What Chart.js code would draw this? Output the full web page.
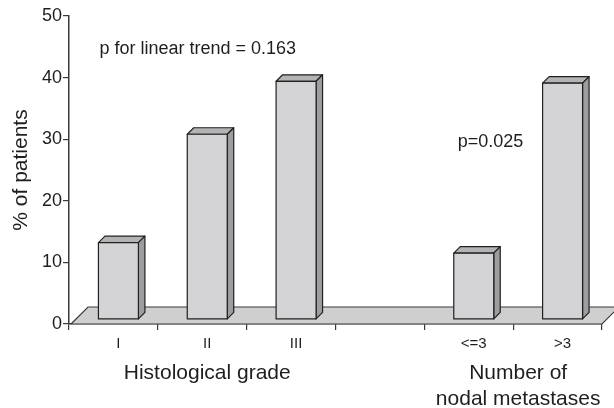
<!DOCTYPE html>
<html>
<head>
<meta charset="utf-8">
<script src="https://cdn.jsdelivr.net/npm/chart.js@4/dist/chart.umd.min.js"></script>
<style>
  html, body { margin: 0; padding: 0; background: #fff; }
  #wrap { width: 614px; height: 408px; position: relative; }
</style>
</head>
<body>
<div id="wrap"><canvas id="c" width="614" height="408"></canvas></div>
<script>
// ---- data ----
const categories = ['I', 'II', 'III', '', '<=3', '>3'];
const percentPatients = [13.2, 30.8, 39.4, null, 11.5, 39.1];
const yTickValues = [0, 10, 20, 30, 40, 50];
const yAxisTitle = '% of patients';
const groupHistological = ['Histological grade'];
const groupNodal = ['Number of', 'nodal metastases'];
const trendNote = 'p for linear trend = 0.163';
const nodalNote = 'p=0.025';

// ---- style ----
const FONT = "'Liberation Sans', Arial, Helvetica, sans-serif";
const TEXT = '#1e1e1e';
const LINE = '#3a3a3a';
const DEPTH_SHIFT = 5;   // bars sit a little back on the floor
const BAR_DEPTH = 6.5;
const FLOOR_DEPTH = 17;

const threeD = {
  id: 'threeD',
  beforeDatasetsDraw(chart) {
    const { ctx } = chart;
    const xs = chart.scales.x, ys = chart.scales.y;
    const y0 = ys.getPixelForValue(0);
    ctx.save();
    ctx.beginPath();
    ctx.moveTo(xs.left + 2, y0);
    ctx.lineTo(xs.left + 2 + FLOOR_DEPTH, y0 - FLOOR_DEPTH);
    ctx.lineTo(xs.right + FLOOR_DEPTH, y0 - FLOOR_DEPTH);
    ctx.lineTo(xs.right, y0);
    ctx.closePath();
    ctx.fillStyle = '#cfcfd0';
    ctx.fill();
    ctx.lineWidth = 1.2;
    ctx.strokeStyle = LINE;
    ctx.stroke();
    ctx.restore();
  },
  afterDatasetsDraw(chart) {
    const { ctx } = chart;
    const meta = chart.getDatasetMeta(0);
    const d = BAR_DEPTH;
    ctx.save();
    ctx.lineWidth = 1.2;
    ctx.strokeStyle = '#202020';
    ctx.lineJoin = 'round';
    meta.data.forEach((el, i) => {
      if (percentPatients[i] == null) return;
      const p = el.getProps(['x', 'y', 'base', 'width'], true);
      const L = p.x + DEPTH_SHIFT - p.width / 2;
      const R = p.x + DEPTH_SHIFT + p.width / 2;
      const B = p.base - 4.5;
      const T = p.y;
      // top
      ctx.beginPath();
      ctx.moveTo(L, T); ctx.lineTo(L + d, T - d); ctx.lineTo(R + d, T - d); ctx.lineTo(R, T); ctx.closePath();
      ctx.fillStyle = '#b3b3b5'; ctx.fill(); ctx.stroke();
      // side
      ctx.beginPath();
      ctx.moveTo(R, T); ctx.lineTo(R + d, T - d); ctx.lineTo(R + d, B - d); ctx.lineTo(R, B); ctx.closePath();
      ctx.fillStyle = '#9d9d9f'; ctx.fill(); ctx.stroke();
      // front
      ctx.beginPath();
      ctx.rect(L, T, R - L, B - T);
      ctx.fillStyle = '#d4d4d6'; ctx.fill(); ctx.stroke();
    });
    ctx.restore();
  },
  afterDraw(chart) {
    const { ctx } = chart;
    const xs = chart.scales.x, ys = chart.scales.y;
    const meta = chart.getDatasetMeta(0);
    const halfBar = meta.data[0].width / 2;
    ctx.save();
    ctx.fillStyle = TEXT;
    ctx.textBaseline = 'alphabetic';
    // annotations
    ctx.font = '18px ' + FONT;
    ctx.textAlign = 'left';
    ctx.fillText(trendNote, xs.getPixelForValue(0) + DEPTH_SHIFT - halfBar + 1, ys.getPixelForValue(43.8));
    ctx.fillText(nodalNote, xs.getPixelForValue(4) + DEPTH_SHIFT - halfBar + 4, ys.getPixelForValue(28.7));
    // group labels
    ctx.font = '21px ' + FONT;
    ctx.textAlign = 'center';
    const baseY = ys.getPixelForValue(0) + 55;
    const c1 = xs.getPixelForValue(1) + DEPTH_SHIFT;
    groupHistological.forEach((t, k) => ctx.fillText(t, c1, baseY + k * 26));
    const c2 = (xs.getPixelForValue(4) + xs.getPixelForValue(5)) / 2 + DEPTH_SHIFT;
    groupNodal.forEach((t, k) => ctx.fillText(t, c2, baseY + k * 26));
    ctx.restore();
  }
};

new Chart(document.getElementById('c'), {
  type: 'bar',
  data: {
    labels: categories,
    datasets: [{
      data: percentPatients,
      backgroundColor: 'rgba(0,0,0,0)',
      borderWidth: 0,
      barPercentage: 0.45,
      categoryPercentage: 1.0
    }]
  },
  options: {
    responsive: false,
    animation: false,
    events: [],
    layout: { padding: { top: 16, right: 12, left: 0, bottom: 0 } },
    plugins: { legend: { display: false }, tooltip: { enabled: false } },
    scales: {
      x: {
        offset: true,
        afterFit(s) { s.height = 84; },
        grid: { display: true, drawOnChartArea: false, drawTicks: true, tickLength: 6, color: LINE, lineWidth: 1.2, offset: true },
        border: { display: true, color: LINE, width: 1.2 },
        ticks: { color: TEXT, font: { family: FONT, size: 15 }, labelOffset: DEPTH_SHIFT, padding: 5, maxRotation: 0, autoSkip: false }
      },
      y: {
        min: 0, max: 50,
        afterFit(s) { s.width = 69; },
        afterBuildTicks(s) { s.ticks = yTickValues.map(v => ({ value: v })); },
        grid: { display: true, drawOnChartArea: false, drawTicks: true, tickLength: 6, color: LINE, lineWidth: 1.2 },
        border: { display: true, color: LINE, width: 1.5 },
        ticks: { color: TEXT, font: { family: FONT, size: 18 }, padding: 1 },
        title: { display: true, text: yAxisTitle, color: TEXT, font: { family: FONT, size: 21 }, padding: { top: 9, bottom: 0 } }
      }
    }
  },
  plugins: [threeD]
});
</script>
</body>
</html>
